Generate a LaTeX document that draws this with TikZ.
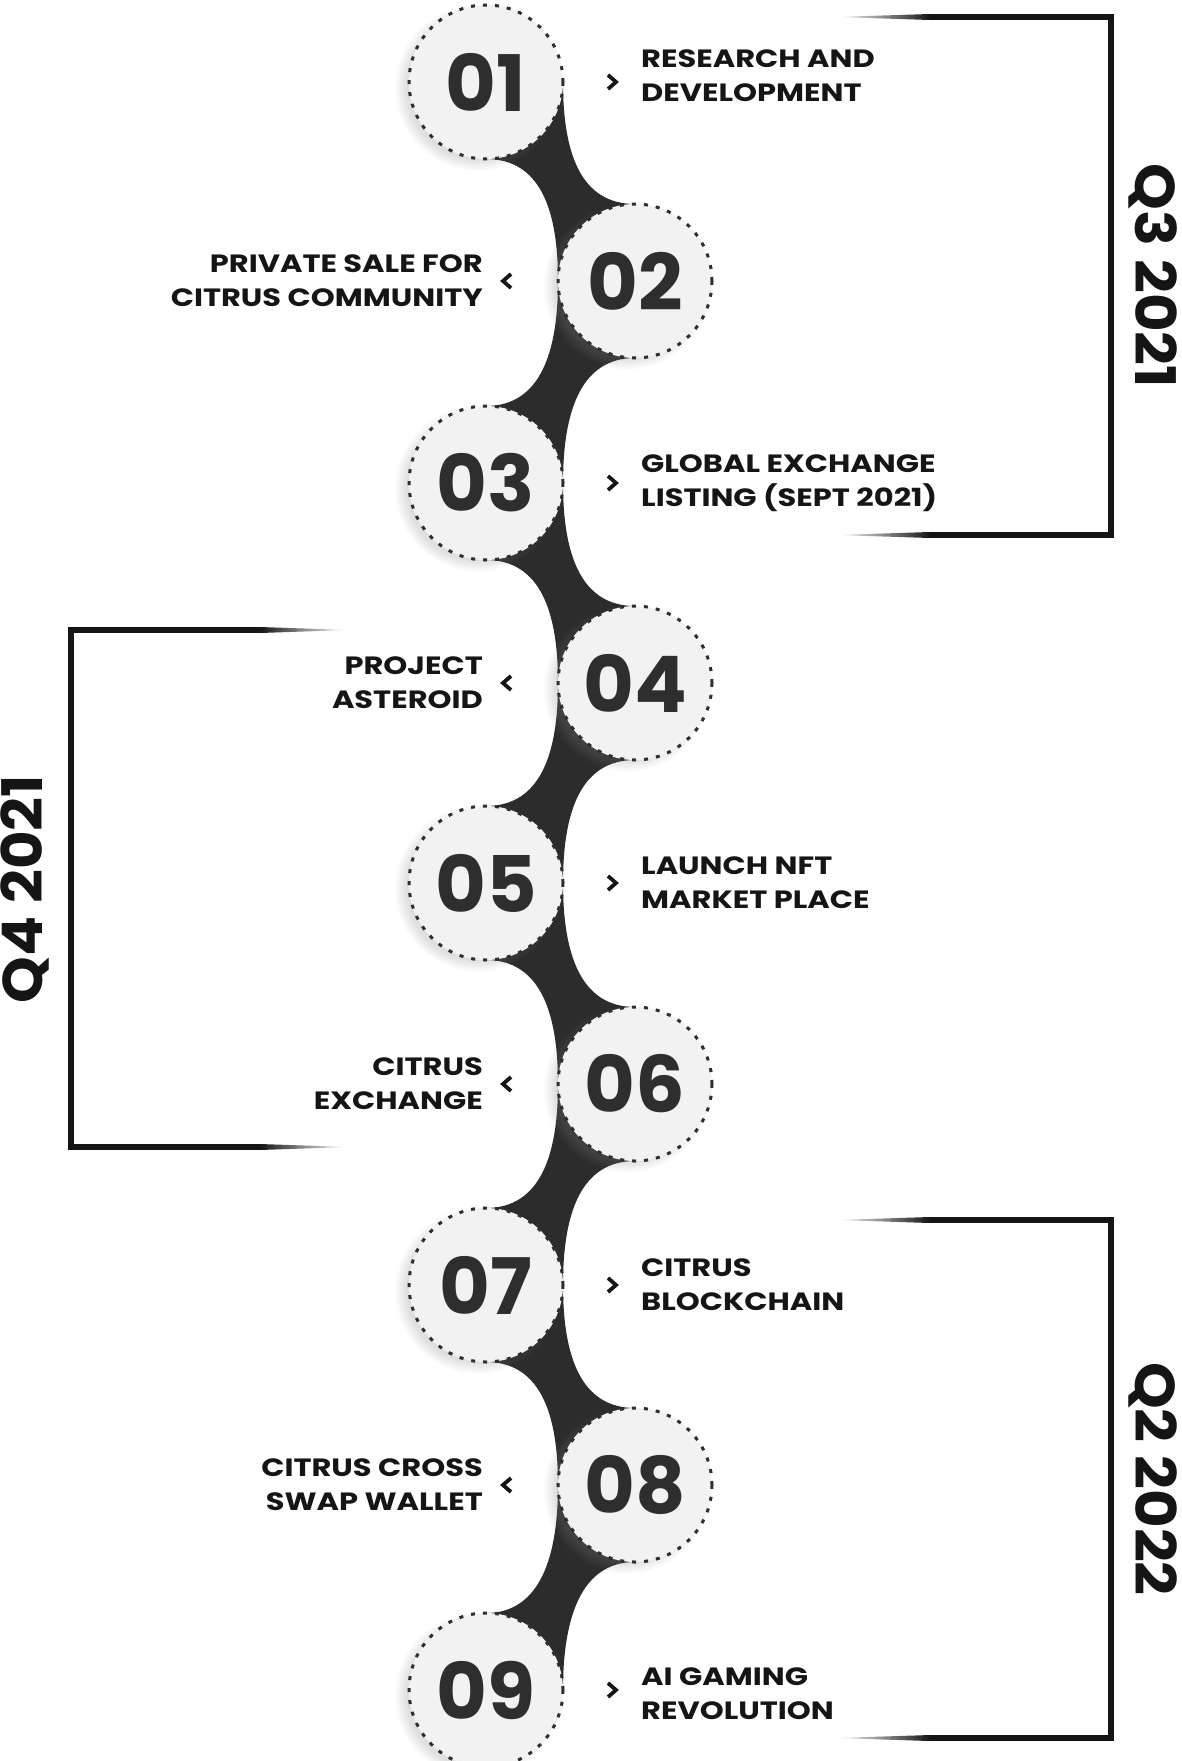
\documentclass[tikz,border=0pt]{standalone}
\usepackage{fontspec}
\setmainfont{Poppins}
\newfontfamily\lblfont{Poppins}[FakeStretch=1.22]
\newfontfamily\qfont{Poppins}[FakeStretch=1.06]
\usetikzlibrary{positioning,shadows,backgrounds}
\definecolor{ink}{HTML}{151515}
\definecolor{bandc}{HTML}{2C2C2C}
\definecolor{disc}{HTML}{F2F2F2}
\definecolor{digit}{HTML}{2E2E2E}

\begin{document}
\begin{tikzpicture}[x=1pt, y=-1pt,
    stepdisc/.style={circle, minimum size=154pt, inner sep=0pt, outer sep=0pt,
        fill=disc, draw=digit, line width=3pt, dash pattern=on 4pt off 8pt,
        circular drop shadow={shadow xshift=-8pt, shadow yshift=-5pt, shadow scale=1.08, opacity=.25},
        text=digit, font=\bfseries\fontsize{78}{78}\selectfont},
    lbl/.style={inner sep=0pt, text=ink, font=\lblfont\bfseries\fontsize{25}{34}\selectfont},
    qlbl/.style={inner sep=0pt, text=ink, font=\qfont\bfseries\fontsize{56}{56}\selectfont},
    chev/.style={ink, line width=3.8pt, line join=miter},
    qline/.style={ink, line width=6pt, line join=miter},
    neck/.style={fill=bandc}]
    \useasboundingbox (0,0) rectangle (1181,1761);

    % steps
    \node [stepdisc] (c1) at (486,82)   {01};
    \node [stepdisc] (c2) at (635,281)  {02};
    \node [stepdisc] (c3) at (486,483)  {03};
    \node [stepdisc] (c4) at (635,683)  {04};
    \node [stepdisc] (c5) at (486,883)  {05};
    \node [stepdisc] (c6) at (635,1084) {06};
    \node [stepdisc] (c7) at (486,1285) {07};
    \node [stepdisc] (c8) at (635,1485) {08};
    \node [stepdisc] (c9) at (486,1690) {09};

    % chevrons
    \coordinate [right=49pt of c1] (a1);
    \coordinate [left=51pt of c2]  (a2);
    \coordinate [right=49pt of c3] (a3);
    \coordinate [left=51pt of c4]  (a4);
    \coordinate [right=49pt of c5] (a5);
    \coordinate [left=51pt of c6]  (a6);
    \coordinate [right=49pt of c7] (a7);
    \coordinate [left=51pt of c8]  (a8);
    \coordinate [right=49pt of c9] (a9);
    \draw [chev] ([shift={(-4,-7)}]a1) -- ([shift={(4,0)}]a1) -- ([shift={(-4,7)}]a1);
    \draw [chev] ([shift={(4,-7)}]a2) -- ([shift={(-4,0)}]a2) -- ([shift={(4,7)}]a2);
    \draw [chev] ([shift={(-4,-7)}]a3) -- ([shift={(4,0)}]a3) -- ([shift={(-4,7)}]a3);
    \draw [chev] ([shift={(4,-7)}]a4) -- ([shift={(-4,0)}]a4) -- ([shift={(4,7)}]a4);
    \draw [chev] ([shift={(-4,-7)}]a5) -- ([shift={(4,0)}]a5) -- ([shift={(-4,7)}]a5);
    \draw [chev] ([shift={(4,-7)}]a6) -- ([shift={(-4,0)}]a6) -- ([shift={(4,7)}]a6);
    \draw [chev] ([shift={(-4,-7)}]a7) -- ([shift={(4,0)}]a7) -- ([shift={(-4,7)}]a7);
    \draw [chev] ([shift={(4,-7)}]a8) -- ([shift={(-4,0)}]a8) -- ([shift={(4,7)}]a8);
    \draw [chev] ([shift={(-4,-7)}]a9) -- ([shift={(4,0)}]a9) -- ([shift={(-4,7)}]a9);

    % labels
    \node [lbl, right=29pt of a1, align=left, yshift=6pt] (t1) {RESEARCH AND\\DEVELOPMENT};
    \node [lbl, left=24pt of a2, align=right]  (t2) {PRIVATE SALE FOR\\CITRUS COMMUNITY};
    \node [lbl, right=29pt of a3, align=left]  (t3) {GLOBAL EXCHANGE\\LISTING (SEPT 2021)};
    \node [lbl, left=24pt of a4, align=right]  (t4) {PROJECT\\ASTEROID};
    \node [lbl, right=29pt of a5, align=left]  (t5) {LAUNCH NFT\\MARKET PLACE};
    \node [lbl, left=24pt of a6, align=right]  (t6) {CITRUS\\EXCHANGE};
    \node [lbl, right=29pt of a7, align=left]  (t7) {CITRUS\\BLOCKCHAIN};
    \node [lbl, left=24pt of a8, align=right]  (t8) {CITRUS CROSS\\SWAP WALLET};
    \node [lbl, right=29pt of a9, align=left, yshift=-4pt] (t9) {AI GAMING\\REVOLUTION};

    % quarters
    \draw [qline] (930,17) -- (1111,17) -- (1111,535) -- (930,535);
    \shade [left color=white, right color=ink] (836,17) -- (930,14) -- (930,20) -- cycle;
    \shade [left color=white, right color=ink] (836,535) -- (930,532) -- (930,538) -- cycle;
    \node [qlbl, rotate=-90] (q3) at (1153,276) {Q3 2021};

    \draw [qline] (260,630) -- (71,630) -- (71,1147) -- (260,1147);
    \shade [left color=ink, right color=white] (348,630) -- (260,627) -- (260,633) -- cycle;
    \shade [left color=ink, right color=white] (348,1147) -- (260,1144) -- (260,1150) -- cycle;
    \node [qlbl, rotate=90] (q4) at (25,889) {Q4 2021};

    \draw [qline] (930,1220) -- (1111,1220) -- (1111,1738) -- (930,1738);
    \shade [left color=white, right color=ink] (836,1220) -- (930,1217) -- (930,1223) -- cycle;
    \shade [left color=white, right color=ink] (836,1738) -- (930,1735) -- (930,1741) -- cycle;
    \node [qlbl, rotate=-90] (q2) at (1153,1479) {Q2 2022};

    \begin{scope}[on background layer]
    \fill [white] (0,0) rectangle (1181,1761);
    \fill [neck] (c1.center) -- (c1.south) .. controls +(55,0) and +(0,-70) .. (c2.west) -- (c2.center) -- (c2.north) .. controls +(-55,0) and +(0,70) .. (c1.east) -- cycle;
    \fill [neck] (c2.center) -- (c2.south) .. controls +(-55,0) and +(0,-70) .. (c3.east) -- (c3.center) -- (c3.north) .. controls +(55,0) and +(0,70) .. (c2.west) -- cycle;
    \fill [neck] (c3.center) -- (c3.south) .. controls +(55,0) and +(0,-70) .. (c4.west) -- (c4.center) -- (c4.north) .. controls +(-55,0) and +(0,70) .. (c3.east) -- cycle;
    \fill [neck] (c4.center) -- (c4.south) .. controls +(-55,0) and +(0,-70) .. (c5.east) -- (c5.center) -- (c5.north) .. controls +(55,0) and +(0,70) .. (c4.west) -- cycle;
    \fill [neck] (c5.center) -- (c5.south) .. controls +(55,0) and +(0,-70) .. (c6.west) -- (c6.center) -- (c6.north) .. controls +(-55,0) and +(0,70) .. (c5.east) -- cycle;
    \fill [neck] (c6.center) -- (c6.south) .. controls +(-55,0) and +(0,-70) .. (c7.east) -- (c7.center) -- (c7.north) .. controls +(55,0) and +(0,70) .. (c6.west) -- cycle;
    \fill [neck] (c7.center) -- (c7.south) .. controls +(55,0) and +(0,-70) .. (c8.west) -- (c8.center) -- (c8.north) .. controls +(-55,0) and +(0,70) .. (c7.east) -- cycle;
    \fill [neck] (c8.center) -- (c8.south) .. controls +(-55,0) and +(0,-70) .. (c9.east) -- (c9.center) -- (c9.north) .. controls +(55,0) and +(0,70) .. (c8.west) -- cycle;
    \end{scope}
\end{tikzpicture}
\end{document}
